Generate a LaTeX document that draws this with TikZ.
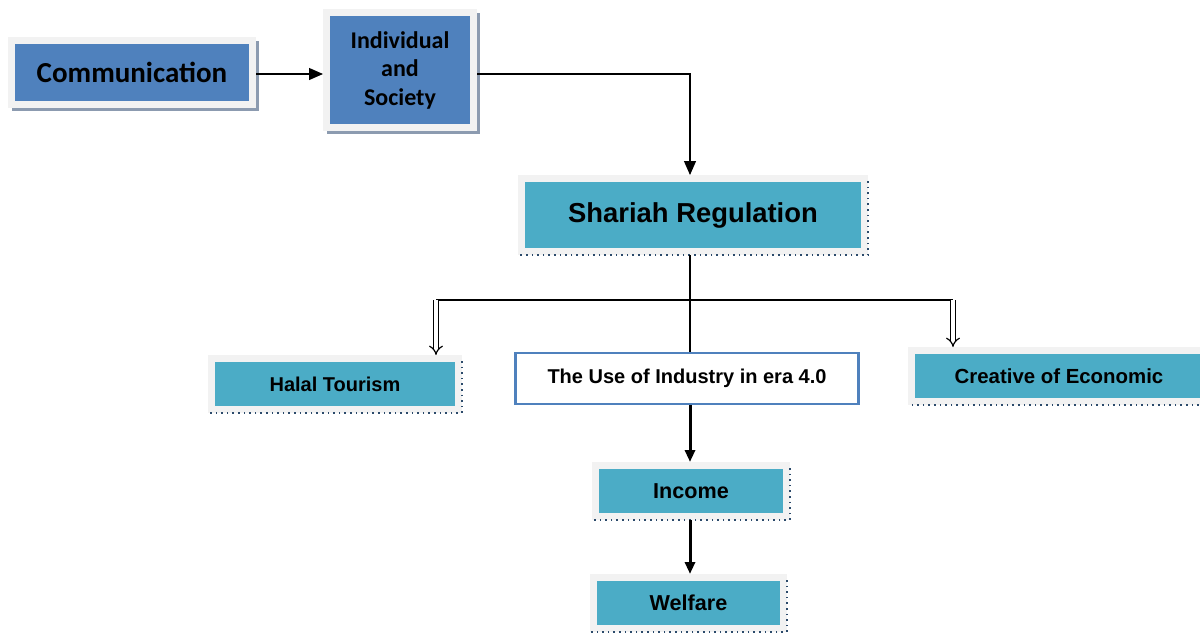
\documentclass[tikz,border=0pt]{standalone}
\usepackage{fontspec}
\newfontfamily\calfont{Carlito}
\newfontfamily\arfont{Liberation Sans}
\usepackage{xcolor}
\usepackage{tikz}
\usetikzlibrary{calc, arrows.meta, positioning, backgrounds}

\definecolor{boxblue}{HTML}{4F81BD}
\definecolor{boxteal}{HTML}{4BACC6}
\definecolor{framegray}{HTML}{F2F2F2}
\definecolor{shadowblue}{HTML}{8C9BB0}
\definecolor{dotnavy}{HTML}{2B4A6B}

\tikzset{
  bluebox/.style={fill=boxblue, draw=framegray, line width=3.5pt, align=center,
    font=\calfont\bfseries, inner sep=0pt},
  tealbox/.style={fill=boxteal, draw=framegray, line width=3.5pt,
    font=\arfont\bfseries, inner sep=0pt},
  dotedge/.style={dotted, draw=dotnavy, line width=0.8pt},
  flow/.style={-{Triangle[length=7pt,width=6pt]}, line width=0.6pt},
  bigflow/.style={-{Triangle[length=6pt,width=5pt]}, line width=1.5pt},
  branch/.style={double, double distance=1.8pt, line width=0.6pt,
    -{Implies[length=3pt]}},
}

\begin{document}
\begin{tikzpicture}[x=0.5pt, y=-0.5pt]
    \useasboundingbox (0,0) rectangle (1200,633);

    % 1. Upper boxes
    \node[bluebox, minimum width=120.5pt, minimum height=32pt,
          font=\calfont\bfseries\fontsize{14.5}{17}\selectfont]
          (comm) at (132,72) {Communication};
    \node[bluebox, minimum width=73.5pt, minimum height=57.5pt,
          font=\calfont\bfseries\fontsize{12}{14.25}\selectfont]
          (indiv) at (400,70) {Individual\\and\\Society};

    % 2. Shariah box
    \node[tealbox, minimum width=171.5pt, minimum height=36.5pt,
          font=\arfont\bfseries\fontsize{13.7}{16}\selectfont]
          (shariah) at (693,215) {Shariah Regulation};

    % 3. Middle row
    \node[tealbox, minimum width=123.5pt, minimum height=25.5pt,
          font=\arfont\bfseries\fontsize{10}{12}\selectfont]
          (halal) at (335,384) {Halal Tourism};
    \node[fill=white, draw=boxblue, line width=1.2pt, inner sep=0pt,
          minimum width=171.5pt, minimum height=25.5pt,
          font=\arfont\bfseries\fontsize{10}{12}\selectfont]
          (use) at (687,378.5) {The Use of Industry in era 4.0};
    \node[tealbox, minimum width=147.5pt, minimum height=25.5pt,
          font=\arfont\bfseries\fontsize{10.2}{12}\selectfont]
          (creative) at (1059,376) {Creative of Economic};

    % 4. Lower boxes
    \node[tealbox, minimum width=95.5pt, minimum height=25.5pt,
          font=\arfont\bfseries\fontsize{10.8}{12}\selectfont]
          (income) at (691,491) {Income};
    \node[tealbox, minimum width=95pt, minimum height=25.5pt,
          font=\arfont\bfseries\fontsize{10.8}{12}\selectfont]
          (welfare) at (688.5,603) {Welfare};

    % 5. Shadows and dotted edges
    \begin{scope}[on background layer]
        \fill[shadowblue] ($(comm.south west)+(4,3)$) rectangle ($(comm.north east)+(3,4)$);
        \fill[shadowblue] ($(indiv.south west)+(4,3)$) rectangle ($(indiv.north east)+(3,4)$);
    \end{scope}
    \draw[dotedge] ([yshift=-3pt]shariah.north east) -- (shariah.south east) -- (shariah.south west);
    \draw[dotedge] ([yshift=-3pt]halal.north east) -- (halal.south east) -- (halal.south west);
    \draw[dotedge] (creative.south east) -- (creative.south west);
    \draw[dotedge] ([yshift=-3pt]income.north east) -- (income.south east) -- (income.south west);
    \draw[dotedge] ([yshift=-3pt]welfare.north east) -- (welfare.south east) -- (welfare.south west);

    % 6. Connectors
    \coordinate (spine) at (690,0);
    \draw[flow] (comm.east |- 0,74) -- (indiv.west |- 0,74);
    \draw[flow] (indiv.east |- 0,74) -| (spine |- shariah.north);

    \coordinate (lefttop) at (436,300);
    \coordinate (righttop) at (953,300);
    \draw[line width=0.6pt] (spine |- shariah.south) -- (spine |- use.north);
    \draw[line width=0.6pt] (lefttop) -- (righttop);
    \draw[branch] (lefttop) -- (lefttop |- halal.north);
    \draw[branch] (righttop) -- (righttop |- creative.north);

    \draw[bigflow] (spine |- use.south) -- (spine |- income.north);
    \draw[bigflow] (spine |- income.south) -- (spine |- welfare.north);
\end{tikzpicture}
\end{document}
